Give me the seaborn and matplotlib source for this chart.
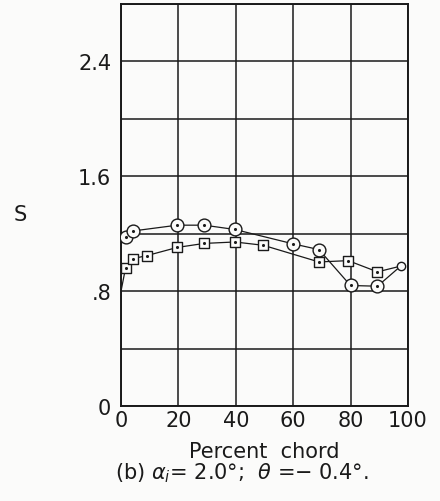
import numpy as np
import pandas as pd
import matplotlib
matplotlib.use("Agg")
import matplotlib.pyplot as plt
import seaborn as sns

### 값
# 원 기호 (circle) 시리즈
circ_x = [1.7, 4.3, 19.6, 29, 39.7, 60, 69, 80, 89.4]
circ_y = [1.18, 1.22, 1.26, 1.26, 1.23, 1.13, 1.09, 0.84, 0.835]
# 사각 기호 (square) 시리즈
sq_x = [1.6, 4.1, 9, 19.6, 29, 39.7, 49.6, 69, 79.2, 89.4]
sq_y = [0.963, 1.027, 1.048, 1.105, 1.133, 1.143, 1.12, 1.004, 1.013, 0.935]
# 곡선의 앞전/뒷전 끝점
circ_start = (0, 1.17)
sq_start = (0, 0.80)
te_point = (97.5, 0.975)

x_ticks = [0, 20, 40, 60, 80, 100]
y_grid = [0, 0.4, 0.8, 1.2, 1.6, 2.0, 2.4, 2.8]
y_labels = ["0", "", ".8", "", "1.6", "", "2.4", ""]

### 데이터프레임
circ_line = pd.DataFrame({"x": [circ_start[0]] + circ_x + [te_point[0]],
                          "y": [circ_start[1]] + circ_y + [te_point[1]]})
sq_line = pd.DataFrame({"x": [sq_start[0]] + sq_x + [te_point[0]],
                        "y": [sq_start[1]] + sq_y + [te_point[1]]})
circ_pts = pd.DataFrame({"x": circ_x, "y": circ_y})
sq_pts = pd.DataFrame({"x": sq_x, "y": sq_y})

sns.set_style("white")
plt.rcParams["font.family"] = ["DejaVu Sans"]

fig = plt.figure(figsize=(4.4, 5.02), dpi=100, facecolor="#fbfbfa")
ax = fig.add_axes([0.275, 0.189, 0.652, 0.801])
ax.set_facecolor("#fbfbfa")

# 곡선
sns.lineplot(data=circ_line, x="x", y="y", sort=False, color="#1a1a1a",
             linewidth=0.9, ax=ax, zorder=3)
sns.lineplot(data=sq_line, x="x", y="y", sort=False, color="#1a1a1a",
             linewidth=0.9, ax=ax, zorder=3)

# 기호
sns.scatterplot(data=circ_pts, x="x", y="y", marker="o", s=85,
                facecolor="#fbfbfa", edgecolor="#1a1a1a", linewidth=1.0,
                ax=ax, zorder=4)
sns.scatterplot(data=sq_pts, x="x", y="y", marker="s", s=58,
                facecolor="#fbfbfa", edgecolor="#1a1a1a", linewidth=1.0,
                ax=ax, zorder=4)
dots = pd.concat([circ_pts, sq_pts])
sns.scatterplot(data=dots, x="x", y="y", marker="o", s=5,
                color="#1a1a1a", linewidth=0, ax=ax, zorder=5)
# 뒷전 기호
ax.plot(*te_point, marker="o", ms=6, mfc="#fbfbfa", mec="#1a1a1a",
        mew=1.0, zorder=4)

ax.set_xlim(0, 100)
ax.set_ylim(0, 2.8)
ax.set_xticks(x_ticks)
ax.set_xticklabels([str(v) for v in x_ticks])
ax.set_yticks(y_grid)
ax.set_yticklabels(y_labels)
ax.tick_params(axis="both", length=0, labelsize=15, colors="#1a1a1a")
ax.tick_params(axis="x", pad=3)
ax.tick_params(axis="y", pad=7)
ax.grid(True, color="#1a1a1a", linewidth=1.1)
for sp in ax.spines.values():
    sp.set_color("#1a1a1a")
    sp.set_linewidth(1.4)

ax.set_xlabel("Percent  chord", fontsize=15, color="#1a1a1a", labelpad=-3)
ax.xaxis.set_label_coords(0.5, -0.087)
ax.set_ylabel("S", fontsize=15, rotation=0, va="center", color="#1a1a1a")
ax.yaxis.set_label_coords(-0.35, 0.478)

fig.text(0.55, 0.058, r"(b) $\alpha_i$= 2.0°;  $\theta$ =$-$ 0.4°.",
         ha="center", va="center", fontsize=15, color="#1a1a1a")

fig.savefig("out.png", dpi=100, facecolor=fig.get_facecolor())
